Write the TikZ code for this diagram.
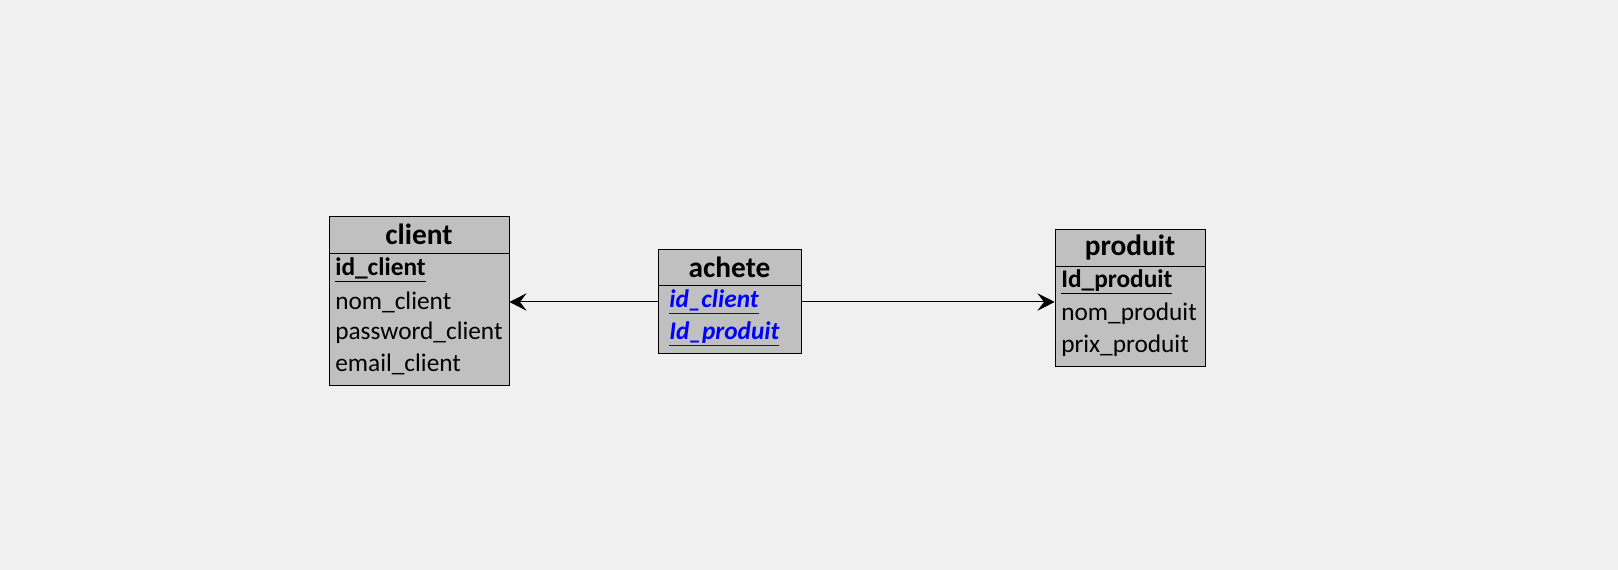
\documentclass[tikz,border=0pt]{standalone}
\usepackage{fontspec}
\setmainfont{Carlito}
\usetikzlibrary{arrows.meta}

\definecolor{bggray}{HTML}{F0F0F0}
\definecolor{boxgray}{HTML}{C0C0C0}
\newcommand{\pk}[1]{\textbf{\underline{#1}}}
\newcommand{\fk}[1]{\textcolor{blue}{\bfseries\itshape\underline{#1}}}

\begin{document}
\begin{tikzpicture}[x=0.75pt,y=-0.75pt,
	tabhead/.style={draw, fill=boxgray, inner sep=0pt, font=\fontsize{22}{24}\selectfont\bfseries},
	tabbody/.style={draw, fill=boxgray, inner sep=0pt},
	field/.style={anchor=west, inner sep=0pt, font=\fontsize{19}{21}\selectfont},
	link/.style={line width=0.75pt, -{Stealth[length=13pt,width=13pt,inset=5pt]}}]

	\fill[bggray] (0,0) rectangle (1618,570);
	\useasboundingbox (0,0) rectangle (1618,570);

	% client
	\node[tabbody, minimum width=135pt, minimum height=99pt] (clientBody) at (419,319) {};
	\node[tabhead, minimum width=135pt, minimum height=27.75pt] (client) at (419,234.5) {client};
	\node[field] (clientId) at (335,270) {\pk{id\_client}};
	\node[field] (clientNom) at (335,302) {nom\_client};
	\node[field] (clientPass) at (335,333) {password\_client};
	\node[field] (clientMail) at (335,364) {email\_client};

	% achete
	\node[tabbody, minimum width=107.25pt, minimum height=51pt] (acheteBody) at (729.5,319) {};
	\node[tabhead, minimum width=107.25pt, minimum height=27pt] (achete) at (729.5,267) {achete};
	\node[field] (acheteIdc) at (669,302) {\fk{id\_client}};
	\node[field] (achetePid) at (669,334) {\fk{Id\_produit}};

	% produit
	\node[tabbody, minimum width=112.5pt, minimum height=75pt] (produitBody) at (1130,316) {};
	\node[tabhead, minimum width=112.5pt, minimum height=27.75pt] (produit) at (1130,247.5) {produit};
	\node[field] (produitId) at (1061,282) {\pk{Id\_produit}};
	\node[field] (produitNom) at (1061,314) {nom\_produit};
	\node[field] (produitPrix) at (1061,346) {prix\_produit};

	% liens
	\draw[link] (acheteIdc.west -| acheteBody.west) -- (acheteIdc.west -| clientBody.east);
	\draw[link] (acheteIdc.west -| acheteBody.east) -- (acheteIdc.west -| produitBody.west);

\end{tikzpicture}
\end{document}
